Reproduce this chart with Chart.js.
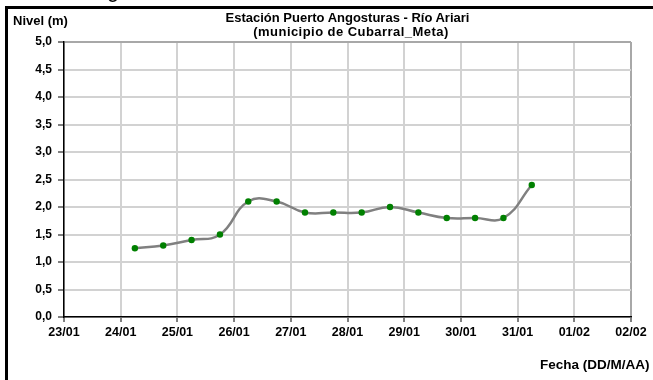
<!DOCTYPE html>
<html>
<head>
<meta charset="utf-8">
<script src="https://cdn.jsdelivr.net/npm/chart.js@4.4.1/dist/chart.umd.min.js"></script>
<style>
  html, body { margin: 0; padding: 0; background: #ffffff; }
  #wrap { position: relative; width: 653px; height: 380px; overflow: hidden; background: #fff; }
  canvas { position: absolute; left: 0; top: 0; }
  .txt { position: absolute; font-family: "Liberation Sans", Arial, sans-serif; font-weight: bold; color: #000; white-space: nowrap; }
  #frameL { position: absolute; left: 5px; top: 6px; width: 3px; height: 380px; background: #000; }
  #frameT { position: absolute; left: 5px; top: 6px; width: 660px; height: 3px; background: #000; }
</style>
</head>
<body>
<div id="wrap">
  <canvas id="c" width="653" height="380"></canvas>
  <div id="frameL"></div>
  <div id="frameT"></div>
  <div class="txt" style="left:107px; top:-21px; font-size:22px; line-height:22px; font-weight:normal;">g</div>
  <div class="txt" style="left:13px; top:13px; font-size:13px; line-height:16px;">Nivel (m)</div>
  <div class="txt" style="left:0; width:695px; text-align:center; top:11px; font-size:13px; line-height:14px;">Estación Puerto Angosturas - Río Ariari</div>
  <div class="txt" style="left:0; width:702px; text-align:center; top:25px; font-size:13px; line-height:14px; letter-spacing:0.45px;">(municipio de Cubarral_Meta)</div>
  <div class="txt" style="left:540px; top:357px; font-size:13.5px; line-height:16px;">Fecha (DD/M/AA)</div>
</div>
<script>
// ---- data ----
const fechas = ['24/01 06:00','24/01 18:00','25/01 06:00','25/01 18:00','26/01 06:00','26/01 18:00',
                '27/01 06:00','27/01 18:00','28/01 06:00','28/01 18:00','29/01 06:00','29/01 18:00',
                '30/01 06:00','30/01 18:00','31/01 06:00'];
const nivel = [1.25, 1.30, 1.40, 1.50, 2.10, 2.10, 1.90, 1.90, 1.90, 2.00, 1.90, 1.80, 1.80, 1.80, 2.40];
const xTickLabels = ['23/01','24/01','25/01','26/01','27/01','28/01','29/01','30/01','31/01','01/02','02/02'];
const yTicks = [0,0.5,1,1.5,2,2.5,3,3.5,4,4.5,5];

// days since 23/01 00:00
function toDays(s) {
  const [d, t] = s.split(' ');
  const [dd, mm] = d.split('/').map(Number);
  const [hh, mi] = t.split(':').map(Number);
  const doy = (mm === 1 ? dd : 31 + dd) + (hh + mi / 60) / 24;
  return doy - 23;
}
const points = fechas.map((f, i) => ({ x: toDays(f), y: nivel[i] }));

const FONT_Y = { family: '"Liberation Sans", Arial, sans-serif', size: 12, weight: 'bold' };
const FONT_X = { family: '"Liberation Sans", Arial, sans-serif', size: 12.5, weight: 'bold' };

new Chart(document.getElementById('c'), {
  type: 'line',
  data: {
    datasets: [{
      data: points,
      borderColor: '#808080',
      borderWidth: 2.5,
      tension: 0.45,
      pointRadius: 3.2,
      pointHoverRadius: 3.2,
      pointBackgroundColor: '#008000',
      pointBorderColor: '#008000',
      pointBorderWidth: 0,
      fill: false
    }]
  },
  options: {
    responsive: false,
    animation: false,
    events: [],
    layout: { padding: { left: 0, right: 22, top: 42, bottom: 0 } },
    plugins: { legend: { display: false }, title: { display: false }, tooltip: { enabled: false } },
    scales: {
      x: {
        type: 'linear',
        min: 0,
        max: xTickLabels.length - 1,
        afterBuildTicks: (scale) => { scale.ticks = xTickLabels.map((_, i) => ({ value: i })); },
        afterFit: (scale) => { scale.height = 63; },
        ticks: {
          color: '#000',
          font: FONT_X,
          padding: 3,
          maxRotation: 0,
          autoSkip: false,
          callback: (v) => xTickLabels[v]
        },
        grid: {
          color: (ctx) => ctx.index === xTickLabels.length - 1 ? '#a8a8a8' : '#d2d2d2',
          lineWidth: 2,
          tickColor: '#000',
          tickWidth: 1,
          tickLength: 5
        },
        border: { color: '#000', width: 1.5 }
      },
      y: {
        min: 0,
        max: 5,
        afterBuildTicks: (scale) => { scale.ticks = yTicks.map(v => ({ value: v })); },
        afterFit: (scale) => { scale.width = 64; },
        ticks: {
          color: '#000',
          font: FONT_Y,
          padding: 6,
          callback: (v) => Number(v).toFixed(1).replace('.', ',')
        },
        grid: {
          color: (ctx) => ctx.index === yTicks.length - 1 ? '#a8a8a8' : '#d2d2d2',
          lineWidth: 2,
          tickColor: '#000',
          tickWidth: 1,
          tickLength: 6
        },
        border: { color: '#000', width: 1.5 }
      }
    }
  }
});
</script>
</body>
</html>
